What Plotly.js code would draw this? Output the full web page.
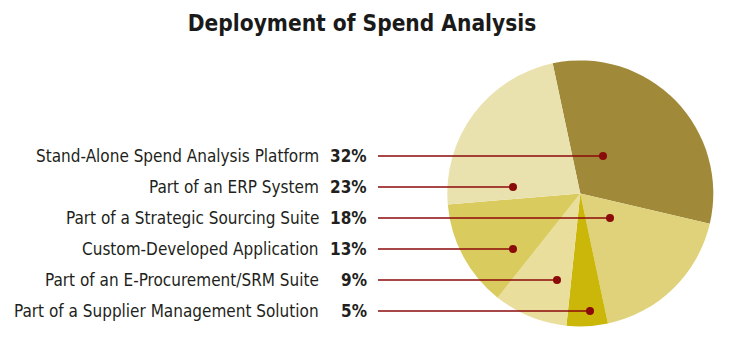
<!DOCTYPE html>
<html>
<head>
<meta charset="utf-8">
<script src="https://cdn.plot.ly/plotly-3.0.1.min.js"></script>
<style>html,body{margin:0;padding:0;background:#fff;}#chart{width:745px;height:348px;}</style>
</head>
<body>
<div id="chart"></div>
<script>
// Data (clockwise order of slices in the pie)
const categories = [
  "Stand-Alone Spend Analysis Platform",
  "Part of a Strategic Sourcing Suite",
  "Part of a Supplier Management Solution",
  "Part of an E-Procurement/SRM Suite",
  "Custom-Developed Application",
  "Part of an ERP System"
];
const values = [32, 18, 5, 9, 13, 23];
const sliceColors = ["#A08A3A", "#DFD27A", "#CBB70A", "#E9DE9C", "#DACB5E", "#EAE2AE"];

// Legend order (top to bottom) as listed at left
const labelOrder = [
  "Stand-Alone Spend Analysis Platform",
  "Part of an ERP System",
  "Part of a Strategic Sourcing Suite",
  "Custom-Developed Application",
  "Part of an E-Procurement/SRM Suite",
  "Part of a Supplier Management Solution"
];
// leader dot x positions (pixels) per row
const dotX = [603, 513, 610, 513, 557, 590];

const W = 745, H = 348;
const px = x => x / W;
const py = y => 1 - y / H;
const FONT = "DejaVu Sans Condensed, sans-serif";

const rowY0 = 156, rowStep = 31;
const annotations = [];
const shapes = [];
labelOrder.forEach((lab, i) => {
  const y = rowY0 + i * rowStep;
  const v = values[categories.indexOf(lab)];
  annotations.push({
    text: lab, x: px(321), y: py(y), xref: "paper", yref: "paper",
    xanchor: "right", yanchor: "middle", showarrow: false,
    font: {family: FONT, size: 17, color: "#231f20"}
  });
  annotations.push({
    text: "<b>" + v + "%</b>", x: px(369), y: py(y), xref: "paper", yref: "paper",
    xanchor: "right", yanchor: "middle", showarrow: false,
    font: {family: FONT, size: 17, color: "#231f20"}
  });
  shapes.push({type: "line", xref: "paper", yref: "paper",
    x0: px(378), x1: px(dotX[i]), y0: py(y), y1: py(y),
    line: {color: "#8B0A0A", width: 1.5}});
  shapes.push({type: "circle", xref: "paper", yref: "paper",
    x0: px(dotX[i] - 4), x1: px(dotX[i] + 4), y0: py(y - 4), y1: py(y + 4),
    fillcolor: "#8B0A0A", line: {width: 0}});
});

const trace = {
  type: "pie",
  labels: categories,
  values: values,
  sort: false,
  direction: "clockwise",
  rotation: -12,
  textinfo: "none",
  hoverinfo: "label+percent",
  marker: {colors: sliceColors, line: {width: 0}},
  domain: {x: [px(447.3), px(713.3)], y: [py(326.4), py(60.4)]},
  showlegend: false
};

const layout = {
  width: W, height: H,
  margin: {l: 0, r: 0, t: 0, b: 0},
  paper_bgcolor: "#ffffff",
  showlegend: false,
  title: {
    text: "<b>Deployment of Spend Analysis</b>",
    x: 362 / W, xanchor: "center", y: py(23), yanchor: "middle",
    font: {family: FONT, size: 22.5, color: "#1a1a1a"}
  },
  annotations: annotations,
  shapes: shapes
};

Plotly.newPlot("chart", [trace], layout, {displayModeBar: false, staticPlot: true});
</script>
</body>
</html>
